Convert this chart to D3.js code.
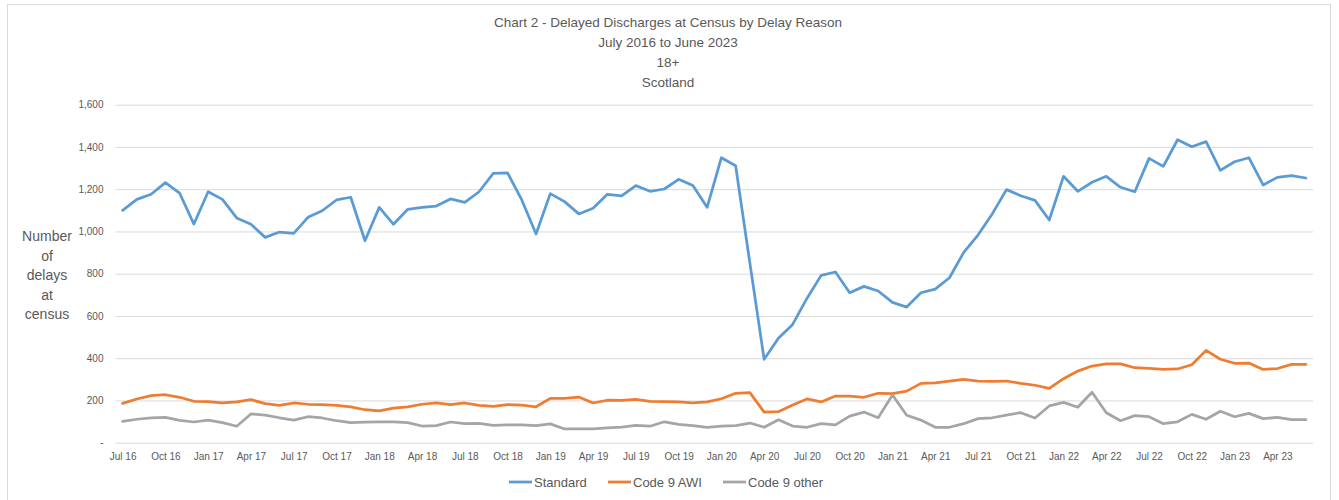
<!DOCTYPE html>
<html>
<head>
<meta charset="utf-8">
<script src="https://cdn.jsdelivr.net/npm/d3@7"></script>
<style>
  body { margin: 0; background: #fff; }
  svg { display: block; font-family: 'Liberation Sans', Arial, sans-serif; }
</style>
</head>
<body>
<svg id="canvas" width="1339" height="500"></svg>
<script>
// Define and Initialise Variables
let titleLines = ['Chart 2 - Delayed Discharges at Census by Delay Reason', 'July 2016 to June 2023', '18+', 'Scotland'];
let yTitleLines = ['Number', 'of', 'delays', 'at', 'census'];
let seriesNames = ['Standard', 'Code 9 AWI', 'Code 9 other'];
let seriesColors = ['#5b9bd5', '#ed7d31', '#a5a5a5'];

let fmtMonth = d3.timeFormat('%b %y');
let months = d3.timeMonth.range(new Date(2016, 6, 1), new Date(2023, 6, 1)).map(fmtMonth);
let xTickLabels = ['Jul 16', 'Oct 16', 'Jan 17', 'Apr 17', 'Jul 17', 'Oct 17', 'Jan 18', 'Apr 18',
  'Jul 18', 'Oct 18', 'Jan 19', 'Apr 19', 'Jul 19', 'Oct 19', 'Jan 20', 'Apr 20', 'Jul 20', 'Oct 20',
  'Jan 21', 'Apr 21', 'Jul 21', 'Oct 21', 'Jan 22', 'Apr 22', 'Jul 22', 'Oct 22', 'Jan 23', 'Apr 23'];
let yTicks = [0, 200, 400, 600, 800, 1000, 1200, 1400, 1600];

let standard = [1100, 1152, 1176, 1231, 1181, 1035, 1188, 1152, 1064, 1034, 972, 997,
  991, 1067, 1098, 1149, 1162, 956, 1114, 1034, 1105, 1114, 1120, 1154,
  1138, 1188, 1275, 1277, 1149, 988, 1179, 1141, 1083, 1110, 1176, 1168,
  1217, 1190, 1201, 1247, 1217, 1114, 1349, 1311, 850, 395, 494, 560,
  683, 792, 808, 710, 740, 718, 664, 642, 710, 727, 781, 901,
  983, 1083, 1198, 1169, 1147, 1054, 1261, 1190, 1233, 1261, 1209, 1188,
  1346, 1308, 1434, 1401, 1425, 1289, 1330, 1349, 1220, 1256, 1264, 1253];
let code9AWI = [186, 207, 223, 227, 215, 196, 194, 189, 193, 204, 185, 177,
  188, 182, 180, 177, 170, 156, 151, 164, 170, 182, 188, 180,
  188, 177, 172, 180, 178, 170, 210, 210, 216, 188, 201, 200,
  205, 196, 194, 193, 189, 193, 208, 234, 237, 145, 147, 178,
  207, 193, 221, 220, 215, 234, 232, 244, 281, 283, 292, 300,
  292, 290, 292, 281, 272, 257, 303, 339, 363, 373, 373, 355,
  352, 347, 349, 369, 437, 395, 376, 377, 347, 351, 371, 371];
let code9Other = [101, 111, 118, 120, 106, 98, 107, 95, 78, 136, 131, 118,
  107, 123, 117, 104, 95, 97, 99, 99, 95, 79, 81, 98,
  90, 92, 82, 84, 84, 81, 89, 65, 65, 65, 70, 74,
  82, 78, 99, 87, 81, 73, 78, 81, 93, 73, 109, 79,
  73, 90, 84, 126, 145, 118, 226, 130, 107, 73, 73, 90,
  114, 118, 131, 142, 117, 174, 191, 168, 239, 142, 104, 128,
  123, 90, 99, 134, 111, 149, 123, 139, 114, 120, 109, 109];
let seriesValues = [standard, code9AWI, code9Other];

let canvas = d3.select('#canvas');

// Chart frame
canvas.append('rect')
  .attr('x', 7.5).attr('y', 4.5)
  .attr('width', 1323).attr('height', 510)
  .attr('fill', 'none')
  .attr('stroke', '#d9d9d9');

// Scales
let x = d3.scalePoint().domain(months).range([115.5, 1313]).padding(0.5);
let y = d3.scaleLinear().domain([0, 1600]).range([442.7, 104.7]);

// Title
canvas.append('g').selectAll('text')
  .data(titleLines)
  .enter()
  .append('text')
  .attr('x', 668)
  .attr('y', (d, i) => 27 + i * 20)
  .attr('text-anchor', 'middle')
  .attr('fill', '#595959')
  .style('font-size', '13.5px')
  .text(d => d);

// Y axis title
canvas.append('g').selectAll('text')
  .data(yTitleLines)
  .enter()
  .append('text')
  .attr('x', 47)
  .attr('y', (d, i) => 241 + i * 19.5)
  .attr('text-anchor', 'middle')
  .attr('fill', '#595959')
  .style('font-size', '14px')
  .text(d => d);

// Y gridlines and labels
let yAxis = canvas.append('g')
  .attr('transform', 'translate(115.5,0)')
  .call(d3.axisLeft(y)
    .tickValues(yTicks)
    .tickSizeInner(-(1313 - 115.5))
    .tickSizeOuter(0)
    .tickPadding(12)
    .tickFormat(d => d === 0 ? '-' : d3.format(',')(d)));
yAxis.select('.domain').remove();
yAxis.selectAll('line').attr('stroke', '#d9d9d9');
yAxis.selectAll('text').attr('fill', '#595959').style('font-size', '10px');

// X axis labels
let xAxis = canvas.append('g')
  .attr('transform', 'translate(0,' + y(0) + ')')
  .call(d3.axisBottom(x)
    .tickValues(xTickLabels)
    .tickSize(0)
    .tickPadding(10));
xAxis.select('.domain').remove();
xAxis.selectAll('text').attr('fill', '#595959').style('font-size', '10px');

// Draw lines
let line = d3.line()
  .x((d, i) => x(months[i]))
  .y(d => y(d));

canvas.append('g').selectAll('path')
  .data(seriesValues)
  .enter()
  .append('path')
  .attr('d', d => line(d))
  .attr('fill', 'none')
  .attr('stroke', (d, i) => seriesColors[i])
  .attr('stroke-width', 2.75)
  .attr('stroke-linejoin', 'round')
  .attr('stroke-linecap', 'round');

// Legend
let legendX = [509, 608, 723];
let legend = canvas.append('g').selectAll('g')
  .data(seriesNames)
  .enter()
  .append('g')
  .attr('transform', (d, i) => 'translate(' + legendX[i] + ',482)');
legend.append('line')
  .attr('x1', 0).attr('x2', 23)
  .attr('stroke', (d, i) => seriesColors[i])
  .attr('stroke-width', 2.75);
legend.append('text')
  .attr('x', 25)
  .attr('dy', '0.35em')
  .attr('fill', '#595959')
  .style('font-size', '13px')
  .text(d => d);
</script>
</body>
</html>
